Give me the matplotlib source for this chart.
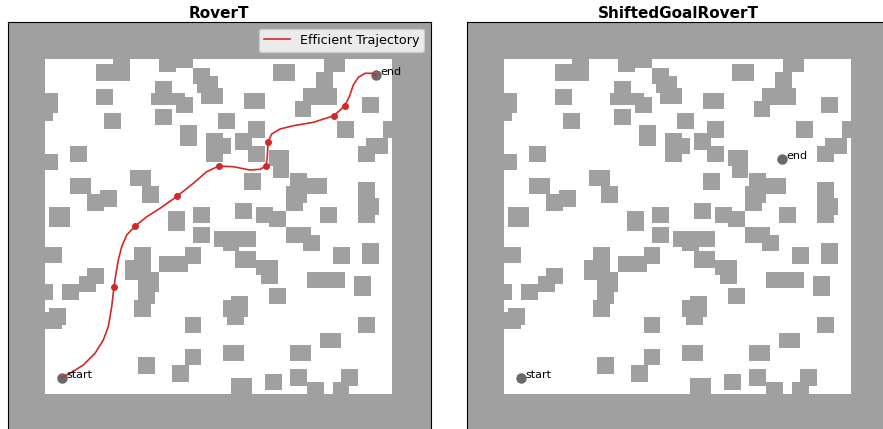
import matplotlib.pyplot as plt
from matplotlib.patches import Rectangle

# free area of the map and wall limits (map units, y grows downwards)
map_w, map_h = 347, 334.4
x_lim = (-37.5, 385.7)
y_lim = (372, -37)

# obstacles: left x, top y, width, height
obs_x = [51, 67.7, 114, 131, 148, 151.7, 156, 228.3, 279, 271, 258.3, 250, 51,
         110, 106, 131, 110, 199, 317, -3, -3, -3, 59, 173.3, 135, 203.3, 190,
         203.3, 161, 161, 292.3, 338.3, 321, 313, 25, 224.3, 228.3, 245, 245,
         241, 241, 85, 97.3, 199, 25, 41.7, 55, 313, 317, 4, 123.3, 148, 190,
         211, 224.3, 275,
         148, 169, 177.7, 241, 258.3, -3, 89, 80, 93.3, 93.3, 89, 114, 140, 190,
         211, 215.7, 288.3, 317, 41.7, 34, 16.7, -3, 261.7, 309, 224.3, 4, -3,
         185.7, 177.7, 181.7, 140, 313, 275, 177.7, 245, 140, 127, 93.3, 186,
         220, 245, 261.7, 295.7, 287.7]
obs_y = [4.7, -2, -2, -2, 9, 16.7, 29, 4.7, -2, 12.4, 29, 41.7, 29.7,
         21.7, 33.4, 37.4, 49.7, 33.4, 37.4, 33.4, 53.4, 94.7, 53.4, 53.4, 65.7,
         61.4, 74, 86.4, 74, 78.4, 61.4, 61.4, 78.4, 86.4, 86.4, 90.7, 102.4,
         114, 118.4, 126.4, 142.4, 110.7, 126.4, 114, 118.4, 134.4, 130.7, 122.4,
         139, 147.4, 151.4, 147.4, 143.4, 147.4, 151.4, 147.4,
         167.4, 171.4, 171.4, 167.4, 175.7, 187.4, 187.4, 200.7, 212.4, 232.4,
         240.7, 196.7, 187.4, 191.7, 200.7, 200.7, 187.4, 183.4, 208.4, 216.7,
         224.7, 224.7, 212.4, 216.7, 228.4, 249, 253, 236.7, 240.7, 253, 257.4,
         257.4, 273.4, 285.7, 285.7, 289.7, 305.7, 297.7, 318.4, 314.7, 309.7,
         322.4, 309.7, 322.4]
obs_w = [34, 17.3, 17, 16.7, 17, 21, 21.7, 21.7, 20.7, 16.7, 33.3, 15.7, 16.7,
         16.7, 34, 16.7, 16.7, 21, 16.7, 15.7, 11.3, 15.7, 16.7, 16.7, 16.7,
         16.7, 16.7, 16.7, 16.7, 24.7, 16.7, 12, 21.7, 16.7, 16.7, 20, 16, 16.7,
         37.3, 20.7, 16.7, 20.7, 16.7, 16.7, 20.7, 17.3, 16.7, 16.7, 16.7, 21,
         16.7, 17, 16.7, 17.3, 16.7, 16.7,
         17, 42, 16.7, 24.7, 16.7, 19.7, 17, 26, 20.7, 16.7, 17, 29.3, 16, 21,
         21.7, 17, 16.7, 16.7, 17.3, 16.7, 17.3, 11.3, 38.3, 16.7, 16.7, 17,
         19.7, 17, 21.3, 17.3, 16, 16.7, 20.7, 21.3, 20.7, 16, 17, 16.7, 20.7,
         16.7, 16.7, 17.3, 17.3, 16.7]
obs_h = [17, 8, 14.4, 11, 16, 16.7, 16, 17, 14.4, 17.7, 16.7, 16, 16,
         24, 12.3, 16, 16, 16.3, 16, 20, 8, 16, 16.3, 16.3, 20.7, 17, 16.7, 16,
         28.3, 16.3, 17, 17, 16.3, 16, 16, 15.7, 16, 20.3, 16, 17, 9, 15.7, 17,
         16.7, 16, 17, 16.7, 41.7, 16.7, 20, 20, 16, 16.3, 16, 16, 16,
         16, 16, 20.3, 16, 16, 16.7, 21, 20, 20, 12.3, 16.7, 15.7, 17.3, 16.7,
         15, 24, 17.3, 21.3, 16.3, 15.7, 16, 16, 16, 20, 16.3, 16.7, 16.7, 20.7,
         16.7, 12.7, 16, 16, 15.7, 16, 16, 16, 16.7, 16.7, 20, 16, 16.7, 16,
         16.7, 16]

# trajectory traced on the RoverT map
traj_x = [16.7, 25, 38.3, 50, 58.3, 63.3, 66.7, 69, 71, 73.3, 76.7, 81.7, 90,
          101.7, 115, 132, 148.3, 161.7, 173.7, 188.3, 205, 215, 221, 222.3, 223,
          226.7, 235, 248.3, 268.3, 289, 299.7, 304.3, 308.3, 313.3, 320, 326.7,
          330.7]
traj_y = [318.4, 314, 305.7, 294, 280.7, 267.4, 247.4, 227.4, 214, 200.7, 187.4,
          175.7, 167, 157.4, 149, 137, 124, 112.4, 106.7, 107.4, 110.7, 110, 106.7,
          97.4, 82.4, 74.7, 69.7, 66.4, 63, 56.4, 46.4, 37.4, 25.7, 18, 14, 14,
          15.7]
wp_x = [69, 90, 132, 173.7, 221, 223, 289, 299.7]
wp_y = [227.4, 167, 137, 106.7, 106.7, 82.4, 56.4, 46.4]

titles = ['RoverT', 'ShiftedGoalRoverT']
start_pts = [(16.7, 318.4), (16.5, 318.4)]
end_pts = [(330.7, 15.7), (278.3, 100)]

gray = '#a0a0a0'
fig = plt.figure(figsize=(8.83, 4.29), dpi=100)
axes = [fig.add_axes([0.0085, -0.0054, 0.4793, 0.9534]),
        fig.add_axes([0.5285, -0.0054, 0.4793, 0.9534])]

for i, ax in enumerate(axes):
    ax.set_facecolor(gray)
    ax.add_patch(Rectangle((0, 0), map_w, map_h, facecolor='white', edgecolor='none'))
    for x, y, w, h in zip(obs_x, obs_y, obs_w, obs_h):
        ax.add_patch(Rectangle((x, y), w, h, facecolor=gray, edgecolor='none'))
    sx, sy = start_pts[i]
    ex, ey = end_pts[i]
    ax.plot([sx, ex], [sy, ey], 'o', color='dimgray', markersize=6.5, linestyle='none')
    if i == 0:
        ax.plot(traj_x, traj_y, color='tab:red', lw=1.2, label='Efficient Trajectory')
        ax.plot(wp_x, wp_y, 'o', color='tab:red', markersize=4)
        ax.legend(loc='upper right', fontsize=9.2)
    ax.text(sx + 4.3, sy, 'start', fontsize=8)
    ax.text(ex + 4.3, ey, 'end', fontsize=8)
    ax.set_xlim(x_lim)
    ax.set_ylim(y_lim)
    ax.set_xticks([])
    ax.set_yticks([])
    ax.set_title(titles[i], fontsize=11, fontweight='bold', pad=3)

fig.savefig('out.png', dpi=100)
